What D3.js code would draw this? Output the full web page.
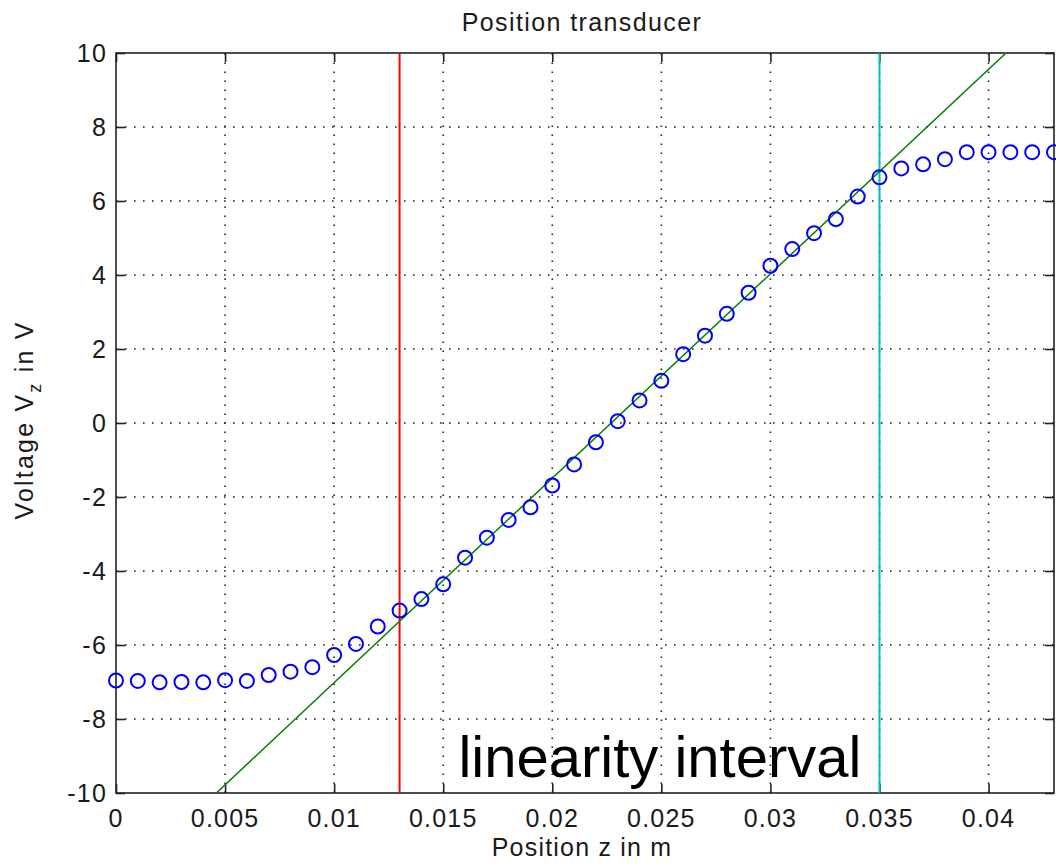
<!DOCTYPE html>
<html lang="en">
<head>
  <meta charset="UTF-8">
  <title>Position transducer</title>
  <script src="https://cdn.jsdelivr.net/npm/d3@7"></script>
  <style>
    body { margin: 0; background: #fff; }
    text { font-family: "Liberation Sans", Arial, sans-serif; fill: #1a1a1a; }
  </style>
</head>
<body>
  <svg width="1056" height="867"></svg>
  <script>
    // measured positions (m) and voltages (V)
    var posZ = [0, 0.001, 0.002, 0.003, 0.004, 0.005, 0.006, 0.007, 0.008, 0.009,
                0.010, 0.011, 0.012, 0.013, 0.014, 0.015, 0.016, 0.017, 0.018, 0.019,
                0.020, 0.021, 0.022, 0.023, 0.024, 0.025, 0.026, 0.027, 0.028, 0.029,
                0.030, 0.031, 0.032, 0.033, 0.034, 0.035, 0.036, 0.037, 0.038, 0.039,
                0.040, 0.041, 0.042, 0.043]
    var voltZ = [-6.96, -6.97, -7.01, -7.0, -7.01, -6.95, -6.97, -6.81, -6.72, -6.6,
                 -6.27, -5.97, -5.5, -5.07, -4.76, -4.36, -3.64, -3.1, -2.62, -2.28,
                 -1.69, -1.12, -0.52, 0.05, 0.61, 1.14, 1.86, 2.36, 2.95, 3.52,
                 4.25, 4.7, 5.13, 5.51, 6.12, 6.64, 6.88, 6.99, 7.13, 7.32,
                 7.32, 7.32, 7.32, 7.32]

    // linear fit end points
    var fitX = [0.0046, 0.0408]
    var fitY = [-10, 10]

    // linearity interval bounds
    var lowerBound = 0.013
    var upperBound = 0.035

    var xTicks = [0, 0.005, 0.01, 0.015, 0.02, 0.025, 0.03, 0.035, 0.04]
    var xTickLabels = ["0", "0.005", "0.01", "0.015", "0.02", "0.025", "0.03", "0.035", "0.04"]
    var yTicks = [-10, -8, -6, -4, -2, 0, 2, 4, 6, 8, 10]

    var svg = d3.select("svg")
    var pLeft = 116, pRight = 1054, pTop = 53, pBottom = 793

    var x = d3.scaleLinear().domain([0, 0.043]).range([pLeft, pRight])
    var y = d3.scaleLinear().domain([-10, 10]).range([pBottom, pTop])

    svg.append("defs").append("clipPath").attr("id", "plot")
      .append("rect")
      .attr("x", pLeft).attr("y", pTop)
      .attr("width", pRight - pLeft).attr("height", pBottom - pTop)

    // dotted grid
    var grid = svg.append("g")
      .attr("stroke", "#222")
      .attr("stroke-width", 1.6)
      .attr("stroke-dasharray", "1.6,7.4")
    grid.selectAll(".gx")
      .data(xTicks.slice(1))
      .enter()
      .append("line")
      .attr("x1", d => x(d)).attr("x2", d => x(d))
      .attr("y1", pBottom).attr("y2", pTop)
    grid.selectAll(".gy")
      .data(yTicks.slice(1, -1))
      .enter()
      .append("line")
      .attr("x1", pLeft).attr("x2", pRight)
      .attr("y1", d => y(d)).attr("y2", d => y(d))

    // axes with inward ticks (and mirrored on top / right)
    var tickLen = 9
    svg.append("g")
      .attr("transform", "translate(0," + pBottom + ")")
      .call(d3.axisTop(x).tickValues(xTicks).tickSize(tickLen).tickFormat(""))
    svg.append("g")
      .attr("transform", "translate(0," + pTop + ")")
      .call(d3.axisBottom(x).tickValues(xTicks).tickSize(tickLen).tickFormat(""))
    svg.append("g")
      .attr("transform", "translate(" + pLeft + ",0)")
      .call(d3.axisRight(y).tickValues(yTicks).tickSize(tickLen).tickFormat(""))
    svg.append("g")
      .attr("transform", "translate(" + pRight + ",0)")
      .call(d3.axisLeft(y).tickValues(yTicks).tickSize(tickLen).tickFormat(""))
    svg.selectAll(".domain").remove()
    svg.selectAll(".tick line").attr("stroke", "#222").attr("stroke-width", 1.6)

    svg.append("rect")
      .attr("x", pLeft).attr("y", pTop)
      .attr("width", pRight - pLeft).attr("height", pBottom - pTop)
      .attr("fill", "none")
      .attr("stroke", "#222")
      .attr("stroke-width", 1.6)

    // tick labels
    svg.selectAll(".xlab")
      .data(xTicks)
      .enter()
      .append("text")
      .attr("x", d => x(d))
      .attr("y", 827)
      .attr("text-anchor", "middle")
      .attr("font-size", 25)
      .attr("letter-spacing", 1.2)
      .text((d, i) => xTickLabels[i])
    svg.selectAll(".ylab")
      .data(yTicks)
      .enter()
      .append("text")
      .attr("x", 107)
      .attr("y", d => y(d) + 9)
      .attr("text-anchor", "end")
      .attr("font-size", 25)
      .attr("letter-spacing", 1.2)
      .text(d => d)

    // vertical interval lines
    svg.append("line")
      .attr("x1", x(lowerBound)).attr("x2", x(lowerBound))
      .attr("y1", pTop).attr("y2", pBottom)
      .attr("stroke", "#ff0000").attr("stroke-width", 2)
    svg.append("line")
      .attr("x1", x(upperBound)).attr("x2", x(upperBound))
      .attr("y1", pTop).attr("y2", pBottom)
      .attr("stroke", "#00bfbf").attr("stroke-width", 2)

    // fit line
    svg.append("path")
      .datum(fitX.map((d, i) => [d, fitY[i]]))
      .attr("clip-path", "url(#plot)")
      .attr("fill", "none")
      .attr("stroke", "#008000")
      .attr("stroke-width", 1.5)
      .attr("d", d3.line().x(d => x(d[0])).y(d => y(d[1])))

    // measured points
    svg.selectAll(".pt")
      .data(posZ)
      .enter()
      .append("circle")
      .attr("cx", d => x(d))
      .attr("cy", (d, i) => y(voltZ[i]))
      .attr("r", 7)
      .attr("fill", "none")
      .attr("stroke", "#0000ff")
      .attr("stroke-width", 2)

    // annotation
    svg.append("text")
      .attr("x", x(0.0157))
      .attr("y", y(-9.57))
      .attr("font-size", 58)
      .style("fill", "#000")
      .text("linearity interval")

    // title and axis labels
    svg.append("text")
      .attr("x", 582).attr("y", 31)
      .attr("text-anchor", "middle")
      .attr("font-size", 25)
      .attr("letter-spacing", 1.4)
      .text("Position transducer")
    svg.append("text")
      .attr("x", 582).attr("y", 856)
      .attr("text-anchor", "middle")
      .attr("font-size", 25)
      .attr("letter-spacing", 1.2)
      .text("Position z in m")
    var yl = svg.append("text")
      .attr("transform", "translate(33,420) rotate(-90)")
      .attr("text-anchor", "middle")
      .attr("font-size", 25)
      .attr("letter-spacing", 2.2)
    yl.append("tspan").text("Voltage V")
    yl.append("tspan").attr("dy", 8).attr("font-size", 18).text("z")
    yl.append("tspan").attr("dy", -8).text(" in V")
  </script>
</body>
</html>
